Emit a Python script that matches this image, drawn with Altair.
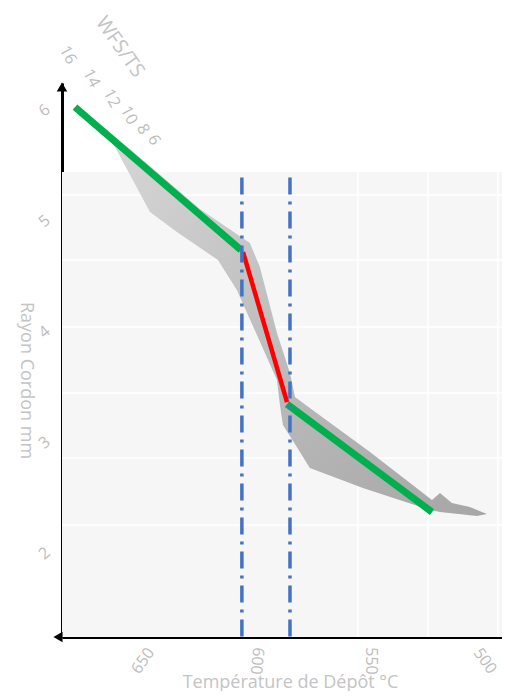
import altair as alt
import pandas as pd

FONT = "Open Sans"
LABEL_C = "#bdbdbd"
TITLE_C = "#c4c4c4"
W, H = 440, 554

# axis extents and ticks (data units)
temp_domain = [492.5, 685.5]
rayon_domain = [1.242, 6.244]
x_ticks = [650, 600, 550, 500]
y_ticks = [6, 5, 4, 3, 2]
wfs_ticks = [16, 14, 12, 10, 8, 6]

# back plane top (Rayon) and its faint grid
plane_top = [5.44]
grid_temps = [555.7, 525.0, 494.3]
grid_vals = [5.233, 4.646, 4.041, 3.445, 2.858, 2.253]

# grey surface outline (Température, Rayon)
surf_temp = [668.9, 646.9, 625.0, 603.1, 598.7, 591.2, 585.5, 583.3, 576.8, 550.4,
             523.2, 519.7, 514.5, 506.6, 499.1, 503.5, 519.7, 525.4, 553.5, 576.8,
             582.5, 588.6, 589.9, 591.2, 600.0, 608.8, 617.1, 635.1, 646.9, 665.8]
surf_val = [5.874, 5.494, 5.106, 4.799, 4.582, 3.986, 3.625, 3.409, 3.309, 2.912,
            2.479, 2.542, 2.451, 2.415, 2.352, 2.334, 2.370, 2.397, 2.587, 2.767,
            2.957, 3.156, 3.336, 3.562, 3.968, 4.375, 4.646, 4.898, 5.079, 5.801]

# fitted segments
g1_temp = [679.8, 607.0]
g1_val = [6.027, 4.736]
r_temp = [606.1, 586.8]
r_val = [4.718, 3.363]
g2_temp = [586.8, 523.2]
g2_val = [3.345, 2.370]

# transition limits
limit_temps = [606.6, 585.5]
limit_top = 5.39

xscale = alt.Scale(domain=temp_domain, reverse=True, zero=False, nice=False)
yscale = alt.Scale(domain=rayon_domain, zero=False, nice=False)

x_axis = alt.Axis(labels=False, ticks=False, grid=False, domainColor="black",
                  domainWidth=3, title="Température de Dépôt °C", titleColor=TITLE_C,
                  titleFont=FONT, titleFontSize=18, titleFontWeight="normal",
                  titleX=228, titleY=45, titleAlign="center", titleBaseline="middle")
y_axis = alt.Axis(values=y_ticks, format="d", ticks=False, grid=False,
                  domainColor="black", domainWidth=3, labelColor=LABEL_C,
                  labelFont=FONT, labelFontSize=16, labelAngle=320, labelPadding=18,
                  labelAlign="center", labelBaseline="middle",
                  title="Rayon Cordon mm", titleColor=TITLE_C, titleFont=FONT,
                  titleFontSize=18, titleFontWeight="normal", titleAngle=90,
                  titleX=-37, titleY=297, titleAlign="center", titleBaseline="middle")

one = pd.DataFrame({"a": [0]})

plane = alt.Chart(pd.DataFrame({"top": plane_top})).mark_rect(color="#f6f6f6").encode(
    x=alt.value(0), x2=alt.value(W),
    y=alt.Y("top:Q", scale=yscale, axis=y_axis), y2=alt.value(H))

vgrid = alt.Chart(pd.DataFrame({"temp": grid_temps, "top": plane_top * 3})).mark_rule(
    color="white", strokeWidth=1.5).encode(
    x=alt.X("temp:Q", scale=xscale, axis=x_axis),
    y=alt.Y("top:Q", scale=yscale, axis=y_axis), y2=alt.value(H))
hgrid = alt.Chart(pd.DataFrame({"val": grid_vals})).mark_rule(
    color="white", strokeWidth=1.5).encode(
    x=alt.value(0), x2=alt.value(W),
    y=alt.Y("val:Q", scale=yscale, axis=y_axis))

grad = alt.Gradient(gradient="linear",
                    stops=[alt.GradientStop(color="#d8d8d8", offset=0),
                           alt.GradientStop(color="#b8b8b8", offset=0.6),
                           alt.GradientStop(color="#a6a6a6", offset=1)],
                    x1=0, y1=0, x2=1, y2=1)
surf = alt.Chart(pd.DataFrame({"i": list(range(len(surf_temp))), "temp": surf_temp,
                               "val": surf_val})).mark_line(
    filled=True, color=grad, strokeWidth=0).encode(
    x=alt.X("temp:Q", scale=xscale, axis=x_axis),
    y=alt.Y("val:Q", scale=yscale, axis=y_axis),
    order=alt.Order("i:Q"))

def seg(t, v, color, width):
    return alt.Chart(pd.DataFrame({"temp": t, "val": v})).mark_line(
        color=color, strokeWidth=width).encode(
        x=alt.X("temp:Q", scale=xscale, axis=x_axis),
        y=alt.Y("val:Q", scale=yscale, axis=y_axis))

green1 = seg(g1_temp, g1_val, "#00b04f", 7)
red = seg(r_temp, r_val, "#ff0000", 4.5)
green2 = seg(g2_temp, g2_val, "#00b04f", 7)

limits = alt.Chart(pd.DataFrame({"temp": limit_temps, "top": [limit_top] * 2})).mark_rule(
    color="#4472c4", strokeWidth=3.5, strokeDash=[17, 7, 3, 7]).encode(
    x=alt.X("temp:Q", scale=xscale, axis=x_axis),
    y=alt.Y("top:Q", scale=yscale, axis=y_axis), y2=alt.value(H + 3))

xlab = alt.Chart(pd.DataFrame({"t": x_ticks})).transform_calculate(
    ang="datum.t == 650 ? 305 : datum.t == 600 ? 95 : datum.t == 550 ? 90 : 55",
    lab="toString(datum.t)").mark_text(
    font=FONT, fontSize=16, color=LABEL_C, align="center", baseline="middle").encode(
    x=alt.X("t:Q", scale=xscale, axis=x_axis), y=alt.value(H + 24),
    angle=alt.Angle("ang:Q", scale=None), text="lab:N")

wfs = alt.Chart(pd.DataFrame({"w": wfs_ticks})).transform_calculate(
    px="92 - 86 * (datum.w * datum.w - 36) / 220",
    py="57 - 85 * (datum.w * datum.w - 36) / 220",
    lab="toString(datum.w)").mark_text(
    font=FONT, fontSize=16, color=LABEL_C, align="center", baseline="middle",
    angle=62).encode(
    x=alt.X("px:Q", scale=None, axis=None), y=alt.Y("py:Q", scale=None, axis=None),
    text="lab:N")

wfs_title = alt.Chart(one).mark_text(
    text="WFS/TS", font=FONT, fontSize=20, color=TITLE_C, angle=55,
    align="center", baseline="middle").encode(x=alt.value(58), y=alt.value(-36))

arrow_up = alt.Chart(one).mark_point(shape="triangle-up", filled=True, color="black",
                                     opacity=1, size=110).encode(
    x=alt.value(0), y=alt.value(4))
arrow_left = alt.Chart(one).mark_point(shape="triangle-left", filled=True, color="black",
                                       opacity=1, size=110).encode(
    x=alt.value(-4), y=alt.value(H))

chart = alt.layer(plane, vgrid, hgrid, surf, green1, red, green2, limits, xlab, wfs,
                  wfs_title, arrow_up, arrow_left).properties(
    width=W, height=H,
    autosize=alt.AutoSizeParams(type="none"),
    padding={"left": 54, "top": 75, "right": 0, "bottom": 54},
).configure_view(stroke=None)

chart.save("out.html", embed_options={"renderer": "svg", "actions": False})
